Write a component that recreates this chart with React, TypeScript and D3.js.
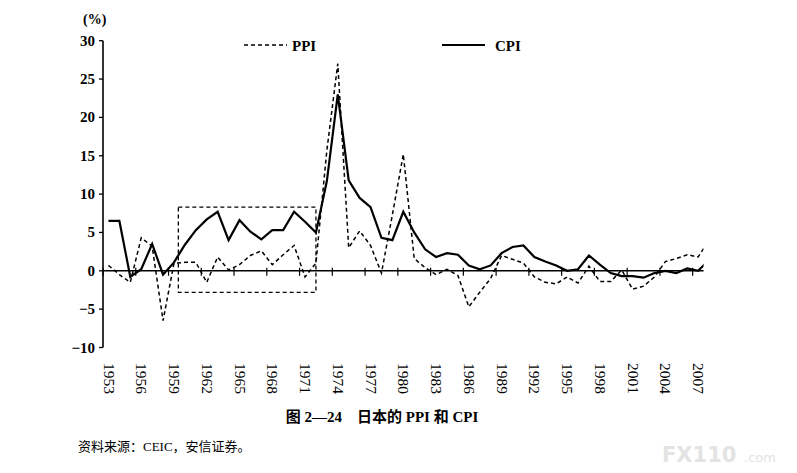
import React from "react";
import * as d3 from "d3";

const years = [
  1953, 1954, 1955, 1956, 1957, 1958, 1959, 1960, 1961, 1962, 1963, 1964, 1965, 1966,
  1967, 1968, 1969, 1970, 1971, 1972, 1973, 1974, 1975, 1976, 1977, 1978, 1979, 1980,
  1981, 1982, 1983, 1984, 1985, 1986, 1987, 1988, 1989, 1990, 1991, 1992, 1993, 1994,
  1995, 1996, 1997, 1998, 1999, 2000, 2001, 2002, 2003, 2004, 2005, 2006, 2007, 2008,
];

const cpi = [
  6.5, 6.5, -0.8, 0.2, 3.5, -0.5, 1.1, 3.4, 5.3, 6.7, 7.7, 4.0, 6.6, 5.1,
  4.1, 5.3, 5.3, 7.7, 6.4, 5.0, 11.7, 23.0, 11.8, 9.5, 8.3, 4.3, 4.0, 7.7,
  5.0, 2.8, 1.8, 2.3, 2.1, 0.7, 0.2, 0.7, 2.3, 3.1, 3.3, 1.8, 1.2, 0.7,
  0.0, 0.2, 2.0, 0.8, -0.3, -0.7, -0.7, -0.9, -0.3, 0.0, -0.3, 0.3, 0.0, 1.4,
];

const ppi = [
  0.7, -0.5, -1.5, 4.3, 3.2, -6.5, 1.0, 1.1, 1.1, -1.5, 1.8, 0.1, 0.8, 2.0,
  2.6, 0.8, 2.1, 3.3, -0.8, 1.0, 15.7, 27.0, 3.0, 5.2, 3.3, -0.3, 7.3, 15.2,
  1.6, 0.4, -0.5, 0.2, -0.6, -4.7, -2.8, -1.0, 2.0, 1.5, 1.0, -0.8, -1.5, -1.7,
  -0.8, -1.6, 0.6, -1.4, -1.4, 0.1, -2.4, -2.0, -0.8, 1.2, 1.6, 2.1, 1.8, 4.0,
];

const tickYears = [
  1953, 1956, 1959, 1962, 1965, 1968, 1971, 1974, 1977, 1980, 1983, 1986, 1989, 1992,
  1995, 1998, 2001, 2004, 2007,
];

const yTicks = [30, 25, 20, 15, 10, 5, 0, -5, -10];

// highlighted period box (years, percent)
const boxYears = [1959.4, 1972.0];
const boxValues = [-2.8, 8.3];

const W = 797;
const H = 473;
const serif = "'Liberation Serif', 'Times New Roman', 'Noto Sans CJK SC', serif";
const cjk = "'Liberation Serif', 'Noto Sans CJK SC', serif";

export default function App() {
  const x = d3.scaleLinear().domain([1952.5, 2007.5]).range([103, 703.6]);
  const y = d3.scaleLinear().domain([-10, 30]).range([347.5, 40.7]);

  const line = (vals: number[]) =>
    d3
      .line<number>()
      .x((_, i) => x(years[i]))
      .y((v) => y(v))(vals) || "";

  const x0 = x.range()[0];
  const x1 = x.range()[1];
  const y0 = y(0);

  return (
    <svg
      width={W}
      height={H}
      viewBox={`0 0 ${W} ${H}`}
      style={{ position: "absolute", left: 0, top: 0, background: "#fff" }}
    >
      <defs>
        <clipPath id="plot">
          <rect x={x0} y={0} width={x1 - x0} height={H} />
        </clipPath>
      </defs>

      {/* watermark */}
      <text
        x={662}
        y={462}
        fill="#e3e3e3"
        fontFamily="'DejaVu Sans', sans-serif"
        fontSize={21}
        fontWeight="bold"
      >
        FX110
      </text>
      <text x={744} y={462} fill="#e3e3e3" fontFamily="'DejaVu Sans', sans-serif" fontSize={13}>
        .com
      </text>

      {/* y axis */}
      <line x1={x0} x2={x0} y1={y(30)} y2={y(-10)} stroke="#000" strokeWidth={1.6} />
      {yTicks.map((t) => (
        <g key={t}>
          <line x1={x0 - 4} x2={x0} y1={y(t)} y2={y(t)} stroke="#000" strokeWidth={1.3} />
          <text
            x={x0 - 8}
            y={y(t) + 5}
            textAnchor="end"
            fontFamily={serif}
            fontWeight="bold"
            fontSize={15}
          >
            {t < 0 ? `−${Math.abs(t)}` : t}
          </text>
        </g>
      ))}
      <text x={83} y={24} fontFamily={serif} fontWeight="bold" fontSize={14}>
        (%)
      </text>

      {/* x axis */}
      <line x1={x0} x2={x1} y1={y0} y2={y0} stroke="#000" strokeWidth={1.6} />
      {tickYears.map((yr) => (
        <line
          key={yr}
          x1={x(yr - 0.5)}
          x2={x(yr - 0.5)}
          y1={y0 - 3}
          y2={y0 + 5}
          stroke="#000"
          strokeWidth={1.2}
        />
      ))}
      {tickYears.map((yr) => (
        <text
          key={"l" + yr}
          transform={`translate(${x(yr)},363) rotate(90)`}
          dy="0.35em"
          fontFamily={serif}
          fontSize={14}
          textLength={31}
          lengthAdjust="spacingAndGlyphs"
        >
          {yr}
        </text>
      ))}

      {/* highlight box */}
      <rect
        x={x(boxYears[0])}
        y={y(boxValues[1])}
        width={x(boxYears[1]) - x(boxYears[0])}
        height={y(boxValues[0]) - y(boxValues[1])}
        fill="none"
        stroke="#000"
        strokeWidth={1.3}
        strokeDasharray="4,3"
      />

      {/* series */}
      <g clipPath="url(#plot)">
        <path d={line(ppi)} fill="none" stroke="#000" strokeWidth={1.5} strokeDasharray="4,3" />
        <path d={line(cpi)} fill="none" stroke="#000" strokeWidth={2.2} strokeLinejoin="miter" />
      </g>

      {/* legend */}
      <line x1={244} x2={287} y1={45} y2={45} stroke="#000" strokeWidth={1.5} strokeDasharray="4,3" />
      <text x={292} y={51} fontFamily={serif} fontWeight="bold" fontSize={15}>
        PPI
      </text>
      <line x1={442} x2={485} y1={45} y2={45} stroke="#000" strokeWidth={2.2} />
      <text x={495} y={51} fontFamily={serif} fontWeight="bold" fontSize={15}>
        CPI
      </text>

      {/* caption */}
      <text x={382} y={422} textAnchor="middle" fontFamily={cjk} fontWeight="bold" fontSize={15}>
        图 2—24{"\u2003"}日本的 PPI 和 CPI
      </text>
      <text x={78} y={451} fontFamily={cjk} fontSize={13}>
        资料来源：CEIC，安信证券。
      </text>
    </svg>
  );
}
